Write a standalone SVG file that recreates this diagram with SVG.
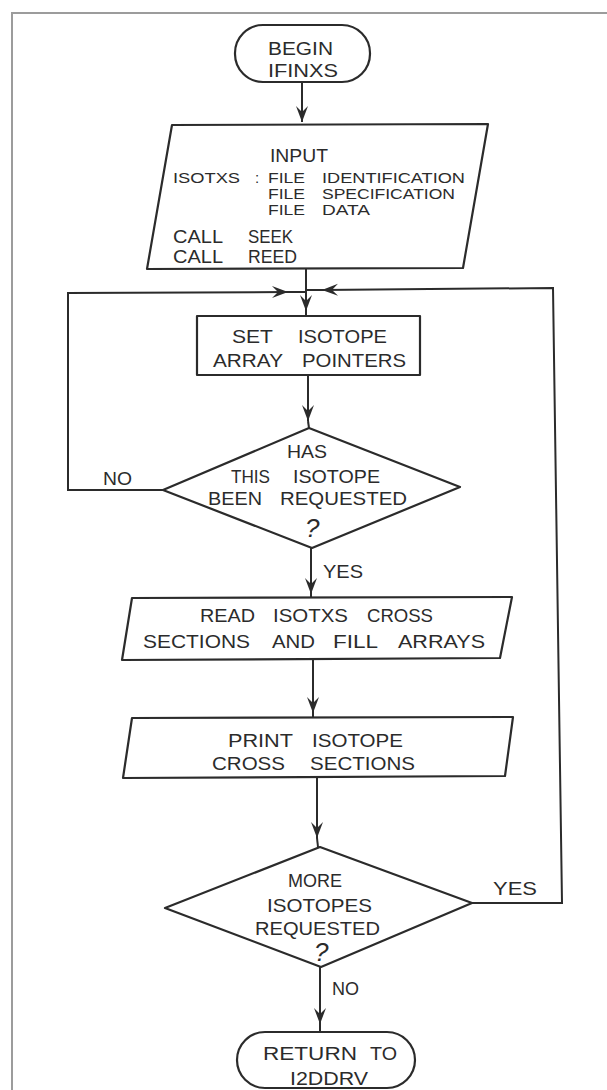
<svg xmlns="http://www.w3.org/2000/svg" width="607" height="1090" viewBox="0 0 607 1090">
<style>
  .shape { fill: #ffffff; stroke: #2b2b2b; stroke-width: 2.2; stroke-linejoin: round; }
  .line { fill: none; stroke: #2b2b2b; stroke-width: 2; }
  .frame { fill: none; stroke: #9c9c9c; stroke-width: 2; }
  text { font-family: "Liberation Sans", Arial, sans-serif; font-size: 18px; fill: #2b2b2b; }
  .sm { font-size: 15px; }
  .q { font-size: 26px; font-style: italic; }
</style>
<defs>
  <marker id="arrow" viewBox="-17 -7 18 14" markerWidth="18" markerHeight="14" refX="0" refY="0" orient="auto" markerUnits="userSpaceOnUse">
    <path d="M0,0 L-16,-6 L-10,0 L-16,6 Z" fill="#2b2b2b"/>
  </marker>
</defs>
<rect width="607" height="1090" fill="#ffffff"/>
<path class="frame" d="M12,1090 L12,13 L607,13"/>

<g id="connectors">
  <path class="line" d="M302,82 L302,122" marker-end="url(#arrow)"/>
  <path class="line" d="M306,268 L306,311" marker-end="url(#arrow)"/>
  <path class="line" d="M306,311 L306,317"/>
  <path class="line" d="M163,490 L68,490 L68,293 L288,292" marker-end="url(#arrow)"/>
  <path class="line" d="M288,292 L306,292"/>
  <path class="line" d="M472,903 L562,903 L553,288 L322,290" marker-end="url(#arrow)"/>
  <path class="line" d="M322,290 L306,290"/>
  <path class="line" d="M308,375 L308,421" marker-end="url(#arrow)"/>
  <path class="line" d="M308,421 L309,428"/>
  <path class="line" d="M311,548 L311,594" marker-end="url(#arrow)"/>
  <path class="line" d="M311,594 L311,598"/>
  <path class="line" d="M313,659 L313,713" marker-end="url(#arrow)"/>
  <path class="line" d="M313,713 L313,718"/>
  <path class="line" d="M317,777 L317,838" marker-end="url(#arrow)"/>
  <path class="line" d="M317,838 L318,847"/>
  <path class="line" d="M320,967 L320,1024" marker-end="url(#arrow)"/>
  <path class="line" d="M320,1024 L320,1032"/>
  <text x="103" y="485" textLength="29" lengthAdjust="spacingAndGlyphs">NO</text>
  <text x="323" y="578" textLength="40" lengthAdjust="spacingAndGlyphs">YES</text>
  <text x="493" y="895" textLength="44" lengthAdjust="spacingAndGlyphs">YES</text>
  <text x="332" y="995" textLength="27" lengthAdjust="spacingAndGlyphs">NO</text>
</g>

<g id="begin">
  <rect class="shape" x="235" y="25" width="135" height="57" rx="28" ry="28"/>
  <text x="268" y="55" textLength="65" lengthAdjust="spacingAndGlyphs">BEGIN</text>
  <text x="268" y="77" textLength="70" lengthAdjust="spacingAndGlyphs">IFINXS</text>
</g>

<g id="input">
  <polygon class="shape" points="172,125 488,124 463,268 147,269"/>
  <text x="270" y="162" textLength="58" lengthAdjust="spacingAndGlyphs">INPUT</text>
  <text class="sm" x="173" y="183" textLength="67" lengthAdjust="spacingAndGlyphs">ISOTXS</text>
  <text class="sm" x="255" y="183">:</text>
  <text class="sm" x="268" y="183" textLength="37" lengthAdjust="spacingAndGlyphs">FILE</text>
  <text class="sm" x="322" y="183" textLength="143" lengthAdjust="spacingAndGlyphs">IDENTIFICATION</text>
  <text class="sm" x="268" y="199" textLength="37" lengthAdjust="spacingAndGlyphs">FILE</text>
  <text class="sm" x="322" y="199" textLength="133" lengthAdjust="spacingAndGlyphs">SPECIFICATION</text>
  <text class="sm" x="268" y="215" textLength="37" lengthAdjust="spacingAndGlyphs">FILE</text>
  <text class="sm" x="322" y="215" textLength="48" lengthAdjust="spacingAndGlyphs">DATA</text>
  <text x="173" y="243" textLength="50" lengthAdjust="spacingAndGlyphs">CALL</text>
  <text x="248" y="243" textLength="45" lengthAdjust="spacingAndGlyphs">SEEK</text>
  <text x="173" y="263" textLength="50" lengthAdjust="spacingAndGlyphs">CALL</text>
  <text x="248" y="263" textLength="49" lengthAdjust="spacingAndGlyphs">REED</text>
</g>

<g id="set-pointers">
  <rect class="shape" x="197" y="316" width="223" height="59"/>
  <text x="232" y="343" textLength="41" lengthAdjust="spacingAndGlyphs">SET</text>
  <text x="298" y="343" textLength="89" lengthAdjust="spacingAndGlyphs">ISOTOPE</text>
  <text x="213" y="367" textLength="70" lengthAdjust="spacingAndGlyphs">ARRAY</text>
  <text x="302" y="367" textLength="104" lengthAdjust="spacingAndGlyphs">POINTERS</text>
</g>

<g id="requested">
  <polygon class="shape" points="309,428 460,487 312,548 163,490"/>
  <text x="287" y="458" textLength="40" lengthAdjust="spacingAndGlyphs">HAS</text>
  <text x="231" y="483" textLength="39" lengthAdjust="spacingAndGlyphs">THIS</text>
  <text x="293" y="483" textLength="87" lengthAdjust="spacingAndGlyphs">ISOTOPE</text>
  <text x="208" y="505" textLength="54" lengthAdjust="spacingAndGlyphs">BEEN</text>
  <text x="280" y="505" textLength="127" lengthAdjust="spacingAndGlyphs">REQUESTED</text>
  <text class="q" x="305" y="537">?</text>
</g>

<g id="read">
  <polygon class="shape" points="132,598 512,597 500,658 122,660"/>
  <text x="200" y="622" textLength="55" lengthAdjust="spacingAndGlyphs">READ</text>
  <text x="273" y="622" textLength="75" lengthAdjust="spacingAndGlyphs">ISOTXS</text>
  <text x="367" y="622" textLength="66" lengthAdjust="spacingAndGlyphs">CROSS</text>
  <text x="143" y="648" textLength="107" lengthAdjust="spacingAndGlyphs">SECTIONS</text>
  <text x="272" y="648" textLength="43" lengthAdjust="spacingAndGlyphs">AND</text>
  <text x="333" y="648" textLength="45" lengthAdjust="spacingAndGlyphs">FILL</text>
  <text x="398" y="648" textLength="87" lengthAdjust="spacingAndGlyphs">ARRAYS</text>
</g>

<g id="print">
  <polygon class="shape" points="132,718 513,717 505,776 123,778"/>
  <text x="228" y="747" textLength="65" lengthAdjust="spacingAndGlyphs">PRINT</text>
  <text x="312" y="747" textLength="91" lengthAdjust="spacingAndGlyphs">ISOTOPE</text>
  <text x="212" y="770" textLength="73" lengthAdjust="spacingAndGlyphs">CROSS</text>
  <text x="310" y="770" textLength="105" lengthAdjust="spacingAndGlyphs">SECTIONS</text>
</g>

<g id="more">
  <polygon class="shape" points="320,847 472,903 321,967 165,908"/>
  <text x="288" y="887" textLength="54" lengthAdjust="spacingAndGlyphs">MORE</text>
  <text x="267" y="912" textLength="105" lengthAdjust="spacingAndGlyphs">ISOTOPES</text>
  <text x="255" y="935" textLength="125" lengthAdjust="spacingAndGlyphs">REQUESTED</text>
  <text class="q" x="314" y="961">?</text>
</g>

<g id="return">
  <rect class="shape" x="237" y="1032" width="178" height="56" rx="28" ry="28"/>
  <text x="263" y="1060" textLength="94" lengthAdjust="spacingAndGlyphs">RETURN</text>
  <text x="370" y="1060" textLength="27" lengthAdjust="spacingAndGlyphs">TO</text>
  <text x="290" y="1085" textLength="78" lengthAdjust="spacingAndGlyphs">I2DDRV</text>
</g>
</svg>
